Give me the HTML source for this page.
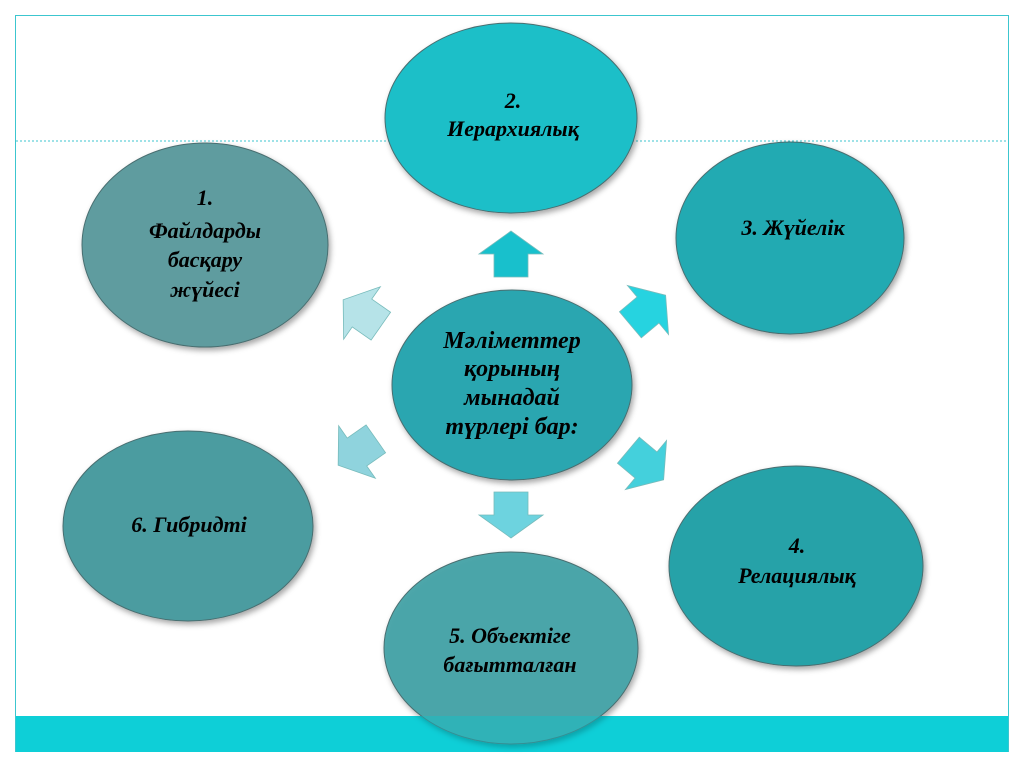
<!DOCTYPE html>
<html><head><meta charset="utf-8"><style>
html,body{margin:0;padding:0;background:#fff;}
svg{display:block;}
text{font-family:"Liberation Serif",serif;font-style:italic;font-weight:bold;fill:#000;}
</style></head><body>
<svg width="1024" height="767" viewBox="0 0 1024 767">
<defs>
<filter id="sh" x="-20%" y="-20%" width="140%" height="140%"><feDropShadow dx="2" dy="3" stdDeviation="3" flood-opacity="0.35"/></filter>
<polygon id="ar" points="-32,0 0,-23 32,0 17,0 17,23 -17,23 -17,0"/>
</defs>
<rect x="15.5" y="15.5" width="993" height="736" fill="#fff" stroke="#3cc6cf" stroke-width="1"/>
<line x1="16" y1="141" x2="1008" y2="141" stroke="#3cc6cf" stroke-width="1" stroke-dasharray="2,2"/>
<rect x="16" y="716" width="992" height="36" fill="#0fcfd8"/>

<g filter="url(#sh)" stroke="#4a6e70" stroke-width="1">
<ellipse cx="511" cy="118" rx="126" ry="95" fill="#1cbfc8"/>
<ellipse cx="205" cy="245" rx="123" ry="102" fill="#5e9c9f"/>
<ellipse cx="790" cy="238" rx="114" ry="96" fill="#22aab2"/>
<ellipse cx="188" cy="526" rx="125" ry="95" fill="#4b9ca0"/>
<ellipse cx="796" cy="566" rx="127" ry="100" fill="#27a2a8"/>
<ellipse cx="511" cy="648" rx="127" ry="96" fill="#44a2a7" fill-opacity="0.95"/>
<ellipse cx="512" cy="385" rx="120" ry="95" fill="#2aa6b0"/>
</g>
<rect x="16" y="716" width="992" height="36" fill="#0fcfd8" opacity="0.35"/>

<g stroke="#7bb" stroke-width="0.8">
<use href="#ar" transform="translate(511,254)" fill="#18c0cc"/>
<use href="#ar" transform="translate(362,313) rotate(-55)" fill="#b6e3e8"/>
<use href="#ar" transform="translate(648,310) rotate(50)" fill="#26d3e0"/>
<use href="#ar" transform="translate(357,452) rotate(-125)" fill="#8fd3dd"/>
<use href="#ar" transform="translate(646,465) rotate(130)" fill="#44d0dc"/>
<use href="#ar" transform="translate(511,515) rotate(180)" fill="#6dd3df"/>
</g>

<g font-size="22" text-anchor="middle">
<text x="513" y="108">2.</text>
<text x="513" y="136">Иерархиялық</text>
<text x="205" y="205">1.</text>
<text x="205" y="238">Файлдарды</text>
<text x="205" y="267">басқару</text>
<text x="205" y="297">жүйесі</text>
<text x="793" y="235">3. Жүйелік</text>
<text x="512" y="348" font-size="24">Мәліметтер</text>
<text x="512" y="376" font-size="24">қорының</text>
<text x="512" y="405" font-size="24">мынадай</text>
<text x="512" y="434" font-size="24">түрлері бар:</text>
<text x="189" y="532">6. Гибридті</text>
<text x="797" y="553">4.</text>
<text x="797" y="583">Релациялық</text>
<text x="510" y="643">5. Объектіге</text>
<text x="510" y="672">бағытталған</text>
</g>
</svg>
</body></html>
